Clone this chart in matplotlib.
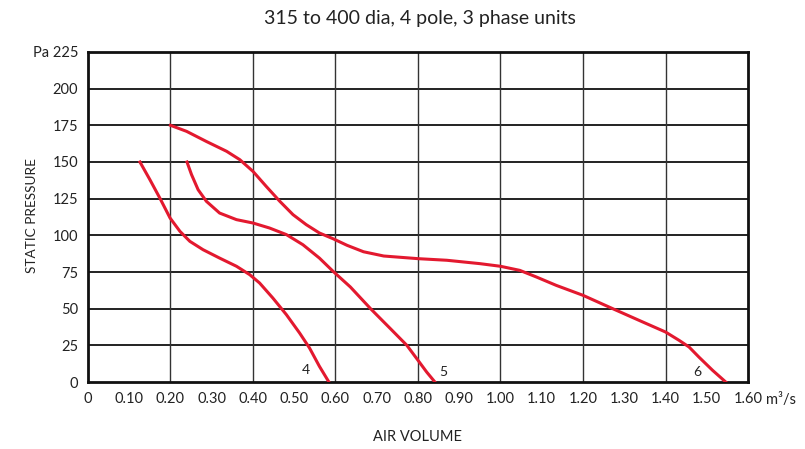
import matplotlib
matplotlib.use('Agg')
import matplotlib.pyplot as plt
import numpy as np

plt.rcParams['font.family'] = ['Lato', 'DejaVu Sans']

# curve 4
vol_4 = [0.126, 0.150, 0.174, 0.199, 0.223, 0.247, 0.279, 0.319, 0.360, 0.392, 0.416,
         0.448, 0.481, 0.513, 0.537, 0.561, 0.584]
pa_4 = [150, 138, 125.5, 111.8, 102.7, 95.9, 90.2, 84.5, 78.9, 73.2, 67.5,
        57.3, 45.9, 33.4, 23.2, 10.7, 0]

# curve 5
vol_5 = [0.240, 0.251, 0.267, 0.287, 0.319, 0.360, 0.400, 0.440, 0.481, 0.521, 0.561,
         0.594, 0.636, 0.685, 0.733, 0.773, 0.800, 0.821, 0.841]
pa_5 = [150, 141.4, 131.1, 123.2, 115.2, 110.7, 108.4, 105, 100.5, 93.6, 84.5,
        75.5, 64.8, 50, 36.4, 25, 14.8, 6.8, 0]

# curve 6
vol_6 = [0.200, 0.239, 0.287, 0.336, 0.368, 0.400, 0.432, 0.465, 0.497, 0.529, 0.561,
         0.594, 0.628, 0.668, 0.717, 0.800, 0.870, 0.950, 1.000, 1.047, 1.087, 1.135,
         1.200, 1.272, 1.345, 1.400, 1.433, 1.457, 1.481, 1.514, 1.546]
pa_6 = [175, 170.9, 164, 157.3, 151.6, 143.6, 133.4, 123.2, 114.1, 107.3, 101.6,
        97.7, 93.2, 88.8, 85.9, 84.1, 83, 80.7, 78.9, 76.1, 71.6, 65.9,
        59.1, 50, 40.9, 34.1, 28.4, 23.9, 17, 8, 0]

curve_names = ['4', '5', '6']
label_pos = [(0.529, 8.4), (0.862, 6.8), (1.477, 6.8)]

x_ticks = np.round(np.arange(0, 1.61, 0.1), 2)
y_ticks = list(range(0, 226, 25))

fig = plt.figure(figsize=(8.05, 4.49), dpi=100)
ax = fig.add_axes([0.1093, 0.1492, 0.8199, 0.735])

red = '#e3192f'
for xs, ys in [(vol_4, pa_4), (vol_5, pa_5), (vol_6, pa_6)]:
    ax.plot(xs, ys, color=red, lw=2.2, solid_joinstyle='round', zorder=3)

for name, (lx, ly) in zip(curve_names, label_pos):
    ax.text(lx, ly, name, fontsize=10, ha='center', va='center', color='#222222')

ax.set_xlim(0, 1.6)
ax.set_ylim(0, 225)

# grid: horizontal every 25, vertical every 0.2
for y in y_ticks[1:-1]:
    ax.axhline(y, color='#111111', lw=1.3, zorder=1)
for x in np.arange(0.2, 1.5, 0.2):
    ax.axvline(x, color='#333333', lw=1.0, zorder=1)

ax.set_xticks(x_ticks)
xlabels = ['0'] + ['%.2f' % v for v in x_ticks[1:]]
ax.set_xticklabels(xlabels)
ax.set_yticks(y_ticks)
ylabels = [str(v) for v in y_ticks]
ylabels[-1] = 'Pa 225'
ax.set_yticklabels(ylabels)
ax.tick_params(length=0, labelsize=10.5, colors='#222222')
ax.tick_params(axis='x', pad=7)
ax.tick_params(axis='y', pad=7)

ax.text(1.643, -12.5, 'm³/s', fontsize=10.5, ha='left', va='center', color='#222222')

for sp in ax.spines.values():
    sp.set_linewidth(2.0)
    sp.set_color('#111111')

fig.text(0.522, 0.958, '315 to 400 dia, 4 pole, 3 phase units', ha='center', va='center',
         fontsize=14, color='#222222')
fig.text(0.519, 0.027, 'AIR VOLUME', ha='center', va='center', fontsize=10.5, color='#222222')
fig.text(0.040, 0.52, 'STATIC PRESSURE', ha='center', va='center', rotation=90,
         fontsize=9.8, color='#222222')

fig.savefig('out.png', dpi=100)
plt.close(fig)
